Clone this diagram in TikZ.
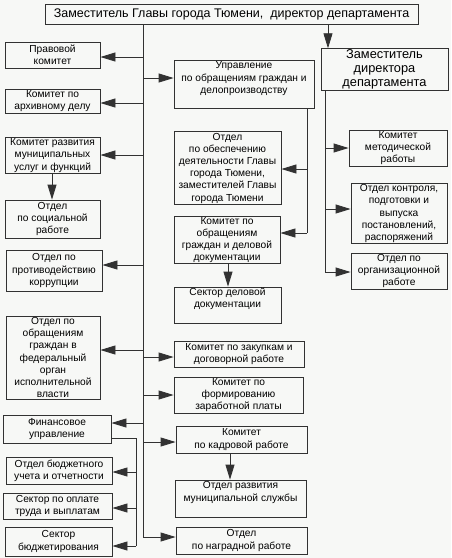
\documentclass[tikz,border=0pt]{standalone}
\usepackage{fontspec}
\setmainfont{Liberation Sans}
\usetikzlibrary{arrows.meta}
\definecolor{bg}{RGB}{247,248,246}
\definecolor{ln}{RGB}{50,50,50}
\begin{document}
\begin{tikzpicture}[x=1pt,y=-1pt,
  box/.style={draw=ln, line width=0.8pt, fill=bg, align=center, inner sep=1pt,
    font=\fontsize{10.2}{12.2}\selectfont},
  up/.style={text depth=14pt},
  arr/.style={draw=ln, line width=0.8pt, -{Triangle[length=15pt,width=9pt]}},
  ln/.style={draw=ln, line width=0.8pt}]
\fill[bg] (0,0) rectangle (451,558);
\useasboundingbox (0,0) rectangle (451,558);
% top
\node[box, minimum width=373pt, minimum height=20pt, font=\fontsize{12.5}{14}\selectfont] (top) at (231.5,14) {Заместитель Главы города Тюмени,\ \ директор департамента};
% left column
\node[box, minimum width=95pt, minimum height=26pt] (pravo) at (52.5,55) {Правовой\\комитет};
\node[box, minimum width=95pt, minimum height=24pt] (arch) at (52.5,101) {Комитет по\\архивному делу};
\node[box, minimum width=95pt, minimum height=35pt] (musl) at (52.5,155.5) {Комитет развития\\муниципальных\\услуг и функций};
\node[box, minimum width=95pt, minimum height=38pt] (soc) at (52.5,219) {Отдел\\по социальной\\работе};
\node[box, minimum width=96pt, minimum height=41pt] (korr) at (54,270.5) {Отдел по\\противодействию\\коррупции};
\node[box, minimum width=94pt, minimum height=83pt] (fed) at (53,357.5) {Отдел по\\обращениям\\граждан в\\федеральный\\орган\\исполнительной\\власти};
\node[box, minimum width=108pt, minimum height=28pt] (fin) at (57,429) {Финансовое\\управление};
\node[box, minimum width=106pt, minimum height=27pt] (buch) at (59,470.5) {Отдел бюджетного\\учета и отчетности};
\node[box, minimum width=109pt, minimum height=26pt] (opl) at (57.5,506) {Сектор по оплате\\труда и выплатам};
\node[box, minimum width=107pt, minimum height=29pt] (budg) at (58.5,541.5) {Сектор\\бюджетирования};
% middle column
\node[box, up, minimum width=140pt, minimum height=47pt] (upr) at (244,84.5) {Управление\\по обращениям граждан и\\делопроизводству};
\node[box, minimum width=107pt, minimum height=70pt] (obesp) at (227.5,168) {Отдел\\по обеспечению\\деятельности Главы\\города Тюмени,\\заместителей Главы\\города Тюмени};
\node[box, minimum width=106pt, minimum height=46pt] (kobr) at (227,240) {Комитет по\\обращениям\\граждан и деловой\\документации};
\node[box, up, minimum width=107pt, minimum height=36pt] (sekt) at (227.5,305) {Сектор деловой\\документации};
\node[box, minimum width=130pt, minimum height=26pt] (zak) at (239,354) {Комитет по закупкам и\\договорной работе};
\node[box, minimum width=129pt, minimum height=36pt] (zarp) at (238.5,395) {Комитет по\\формированию\\заработной платы};
\node[box, minimum width=131pt, minimum height=27pt] (kadr) at (241.5,439.5) {Комитет\\по кадровой работе};
\node[box, up, minimum width=131pt, minimum height=37pt] (razv) at (240.5,498.5) {Отдел развития\\муниципальной службы};
\node[box, minimum width=131pt, minimum height=27pt] (nagr) at (241.5,540.5) {Отдел\\по наградной работе};
% right column
\node[box, minimum width=127pt, minimum height=41pt, font=\fontsize{12.8}{14}\selectfont] (zam) at (384.5,69.5) {Заместитель\\директора\\департамента};
\node[box, minimum width=98pt, minimum height=36pt] (metod) at (398,148) {Комитет\\методической\\работы};
\node[box, minimum width=96pt, minimum height=59pt] (kontr) at (399,213.5) {Отдел контроля,\\подготовки и\\выпуска\\постановлений,\\распоряжений};
\node[box, minimum width=96pt, minimum height=36pt] (org) at (399,271) {Отдел по\\организационной\\работе};
% trunk
\coordinate (t0) at (143,24);
\coordinate (t1) at (143,537);
\draw[arr] (t0) -- (t1) -- (nagr.west |- t1);
\draw[arr] (143,57) -- (pravo.east |- 0,57);
\draw[arr] (143,103) -- (arch.east |- 0,103);
\draw[arr] (143,155) -- (musl.east |- 0,155);
\draw[arr] (143,265) -- (korr.east |- 0,265);
\draw[arr] (143,350) -- (fed.east |- 0,350);
\draw[arr] (143,423) -- (fin.east |- 0,423);
\draw[arr] (143,78) -- (upr.west |- 0,78);
\draw[arr] (143,357) -- (zak.west |- 0,357);
\draw[arr] (143,395) -- (zarp.west |- 0,395);
\draw[arr] (143,442) -- (kadr.west |- 0,442);
% top to deputy
\draw[arr] (top.south -| 328,0) -- (zam.north -| 328,0);
% deputy branch
\coordinate (z1) at (325,272);
\draw[ln] (zam.south -| 325,0) -- (z1);
\draw[arr] (325,148) -- (metod.west |- 0,148);
\draw[arr] (325,209) -- (kontr.west |- 0,209);
\draw[arr] (z1) -- (org.west |- z1);
% upravlenie branch
\coordinate (u1) at (307,233);
\draw[ln] (upr.south -| 307,0) -- (u1);
\draw[arr] (307,169) -- (obesp.east |- 0,169);
\draw[arr] (u1) -- (kobr.east |- u1);
% vertical arrows
\draw[arr] (musl.south -| 52,0) -- (soc.north -| 52,0);
\draw[arr] (kobr.south -| 228,0) -- (sekt.north -| 228,0);
\draw[arr] (kadr.south -| 230,0) -- (razv.north -| 230,0);
% finance branch
\coordinate (f0) at (fin.east |- 0,438);
\coordinate (f1) at (136,546);
\draw[ln] (f0) -| (f1);
\draw[arr] (136,472) -- (buch.east |- 0,472);
\draw[arr] (136,508) -- (opl.east |- 0,508);
\draw[arr] (f1) -- (budg.east |- f1);
\end{tikzpicture}
\end{document}
